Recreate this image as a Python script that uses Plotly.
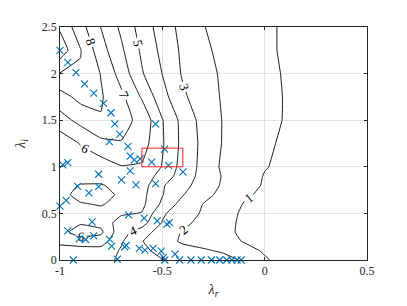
import plotly.graph_objects as go

x_grid = [-1.0, -0.9, -0.8, -0.7, -0.6, -0.5, -0.4, -0.3, -0.2, -0.1, 0.0, 0.1, 0.2, 0.3, 0.4, 0.5]
y_grid = [0.0, 0.1, 0.2, 0.3, 0.4, 0.5, 0.6, 0.7, 0.8, 0.9, 1.0, 1.25, 1.5, 1.75, 2.0, 2.25, 2.5]

z_y000 = [4.5, 4.5, 4.6, 3.7, 3.4, 3.05, 2.7, 2.5, 2.25, 1.9, 1.1, 0.7, 0.5, 0.4, 0.34, 0.3]
z_y010 = [4.5, 4.5, 4.6, 3.9, 3.3, 2.6, 2.25, 2.1, 1.9, 1.3, 0.9, 0.6, 0.45, 0.37, 0.32, 0.28]
z_y020 = [5.3, 5.6, 5.5, 4.1, 3.05, 2.3, 1.9, 1.7, 1.3, 0.95, 0.65, 0.48, 0.4, 0.34, 0.3, 0.27]
z_y030 = [5.7, 6.4, 6.2, 4.3, 3.6, 2.4, 1.95, 1.55, 1.25, 0.8, 0.6, 0.45, 0.38, 0.33, 0.3, 0.27]
z_y040 = [5.3, 5.9, 5.7, 4.5, 4.4, 2.95, 2.2, 1.75, 1.3, 0.8, 0.6, 0.47, 0.4, 0.35, 0.31, 0.28]
z_y050 = [5.3, 5.5, 5.6, 5.15, 4.95, 3.15, 2.4, 1.9, 1.35, 0.85, 0.65, 0.5, 0.42, 0.36, 0.32, 0.29]
z_y060 = [5.4, 5.9, 6.1, 5.6, 5.25, 3.8, 2.6, 1.98, 1.5, 0.95, 0.72, 0.55, 0.45, 0.38, 0.33, 0.3]
z_y070 = [5.6, 6.4, 6.5, 5.75, 5.3, 4.05, 3.05, 2.25, 1.75, 1.15, 0.8, 0.6, 0.48, 0.4, 0.35, 0.31]
z_y080 = [5.7, 6.05, 6.05, 5.8, 5.45, 4.1, 3.3, 2.55, 1.85, 1.4, 0.9, 0.65, 0.52, 0.43, 0.37, 0.32]
z_y090 = [5.5, 5.7, 5.75, 5.7, 5.7, 4.55, 3.55, 2.65, 1.9, 1.45, 0.95, 0.7, 0.55, 0.45, 0.38, 0.33]
z_y100 = [5.3, 5.5, 5.45, 5.95, 5.9, 4.95, 3.6, 2.72, 1.78, 1.4, 1.05, 0.8, 0.62, 0.5, 0.42, 0.36]
z_y125 = [5.35, 6.05, 6.72, 6.95, 6.45, 5.1, 3.72, 2.74, 1.91, 1.54, 1.17, 0.85, 0.68, 0.55, 0.45, 0.38]
z_y150 = [6.6, 7.3, 7.94, 7.3, 6.75, 5.05, 3.67, 2.64, 1.93, 1.61, 1.28, 0.95, 0.75, 0.6, 0.48, 0.4]
z_y175 = [7.6, 8.3, 8.1, 7.22, 5.89, 4.36, 3.17, 2.43, 1.89, 1.58, 1.27, 0.96, 0.75, 0.6, 0.48, 0.4]
z_y200 = [8.95, 8.9, 7.96, 6.59, 5.09, 3.98, 2.89, 2.31, 1.86, 1.55, 1.24, 0.93, 0.72, 0.57, 0.46, 0.38]
z_y225 = [10.6, 9.05, 7.4, 6.16, 4.83, 3.74, 2.81, 2.16, 1.78, 1.48, 1.18, 0.88, 0.68, 0.53, 0.43, 0.36]
z_y250 = [9.85, 8.38, 6.98, 5.8, 4.58, 3.52, 2.7, 2.03, 1.73, 1.44, 1.15, 0.9, 0.7, 0.55, 0.45, 0.38]

z_rows = [z_y000, z_y010, z_y020, z_y030, z_y040, z_y050, z_y060, z_y070, z_y080,
          z_y090, z_y100, z_y125, z_y150, z_y175, z_y200, z_y225, z_y250]

# eigenvalues (blue crosses)
eig_re = [-1.0, -0.962, -0.922, -0.88, -0.835, -0.787, -0.751, -0.732, -0.708, -0.759,
          -0.668, -0.657, -0.637, -0.608, -0.657,
          -0.533, -0.489, -0.552, -0.47, -0.399,
          -0.986, -0.962, -0.811, -0.7, -0.629, -0.533,
          -0.914, -0.811, -0.859, -0.97, -1.0,
          -0.665, -0.589, -0.525, -0.478, -0.465, -0.843,
          -0.962, -0.906, -0.875, -0.835, -0.758, -0.748, -0.676, -0.684,
          -0.612, -0.585, -0.545, -0.505, -0.438, -0.494,
          -0.935, -0.72, -0.488, -0.415, -0.36, -0.31, -0.26, -0.22, -0.185, -0.16, -0.135, -0.115]
eig_im = [2.25, 2.12, 2.01, 1.89, 1.79, 1.68, 1.58, 1.46, 1.35, 1.27,
          1.22, 1.115, 1.075, 1.085, 0.957,
          1.46, 1.19, 1.05, 1.016, 0.945,
          1.02, 1.045, 0.92, 0.86, 0.807, 0.82,
          0.79, 0.787, 0.72, 0.64, 0.577,
          0.485, 0.45, 0.42, 0.384, 0.40, 0.41,
          0.312, 0.226, 0.22, 0.26, 0.222, 0.15, 0.156, 0.14,
          0.125, 0.105, 0.125, 0.095, 0.062, 0.028,
          0.0, 0.008, 0.0, 0.0, 0.0, 0.0, 0.0, 0.0, 0.0, 0.0, 0.0, 0.0]

# red rectangle (region of interest)
box_re = [-0.6, -0.4]
box_im = [1.0, 1.2]

x_ticks = [-1, -0.5, 0, 0.5]
x_ticklabels = ["-1", "-0.5", "0", "0.5"]
y_ticks = [0, 0.5, 1, 1.5, 2, 2.5]
y_ticklabels = ["0", "0.5", "1", "1.5", "2", "2.5"]

serif = "Liberation Serif, DejaVu Serif, serif"
axis_col = "#262626"
blue = "#0072BD"

fig = go.Figure()
fig.add_trace(go.Contour(
    x=x_grid, y=y_grid, z=z_rows,
    contours=dict(start=1, end=10, size=1, coloring="lines", showlabels=True,
                  labelfont=dict(family=serif, size=13, color="black")),
    colorscale=[[0, "black"], [1, "black"]],
    showscale=False,
    line=dict(width=0.9, smoothing=0.3),
    hoverinfo="skip",
))
fig.add_trace(go.Scatter(
    x=eig_re, y=eig_im, mode="markers",
    marker=dict(symbol="x-thin", size=7, line=dict(width=1.1, color=blue), color=blue),
    showlegend=False, cliponaxis=False,
))
fig.add_shape(type="rect", x0=box_re[0], x1=box_re[1], y0=box_im[0], y1=box_im[1],
              line=dict(color="#FF2020", width=1), layer="above")

# the page body adds an 8px offset, so the figure is laid out 8px smaller
fig.update_layout(
    width=399, height=298,
    margin=dict(l=44, r=40, t=16, b=44),
    paper_bgcolor="white", plot_bgcolor="white",
    showlegend=False,
    font=dict(family=serif, size=12, color=axis_col),
    xaxis=dict(range=[-1, 0.5], tickvals=x_ticks, ticktext=x_ticklabels,
               showgrid=True, gridcolor="#e3e3e3", gridwidth=1,
               zeroline=False, showline=True, linecolor=axis_col, linewidth=0.8,
               mirror="allticks", ticks="inside", ticklen=3, tickcolor=axis_col,
               tickfont=dict(family=serif, size=12, color=axis_col),
               title=dict(text="<i>λ</i><sub><i>r</i></sub>", standoff=6,
                          font=dict(family=serif, size=14, color=axis_col))),
    yaxis=dict(range=[0, 2.5], tickvals=y_ticks, ticktext=y_ticklabels,
               showgrid=True, gridcolor="#e3e3e3", gridwidth=1,
               zeroline=False, showline=True, linecolor=axis_col, linewidth=0.8,
               mirror="allticks", ticks="inside", ticklen=3, tickcolor=axis_col,
               tickfont=dict(family=serif, size=12, color=axis_col),
               title=dict(text="<i>λ</i><sub><i>i</i></sub>", standoff=12,
                          font=dict(family=serif, size=14, color=axis_col))),
)

fig.write_html("out.html")
